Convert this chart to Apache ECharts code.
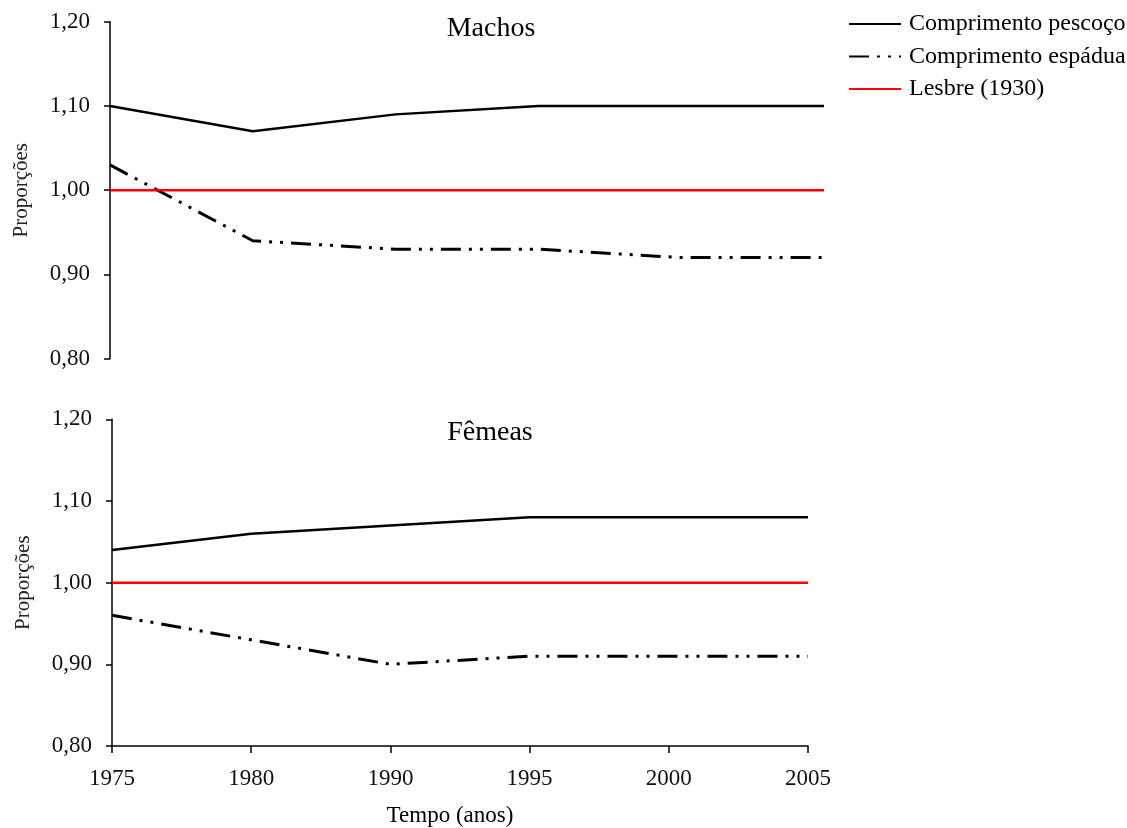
<!DOCTYPE html>
<html>
<head>
<meta charset="utf-8">
<script src="https://cdn.jsdelivr.net/npm/echarts@6/dist/echarts.min.js"></script>
<style>
  html, body { margin: 0; padding: 0; background: #fff; }
  #chart { width: 1127px; height: 828px; }
</style>
</head>
<body>
<div id="chart"></div>
<script>
// anos (eixo x)
const anos = ['1975', '1980', '1990', '1995', '2000', '2005'];
// Machos
const machosPescoco = [1.10, 1.07, 1.09, 1.10, 1.10, 1.10];
const machosEspadua = [1.03, 0.94, 0.93, 0.93, 0.92, 0.92];
const machosLesbre = [1.00, 1.00, 1.00, 1.00, 1.00, 1.00];
// Fêmeas
const femeasPescoco = [1.04, 1.06, 1.07, 1.08, 1.08, 1.08];
const femeasEspadua = [0.96, 0.93, 0.90, 0.91, 0.91, 0.91];
const femeasLesbre = [1.00, 1.00, 1.00, 1.00, 1.00, 1.00];

const FONT = 'Liberation Serif';
let myChart = echarts.init(document.getElementById('chart'));

function yAxis(gridIndex) {
    return {
        type: 'value',
        gridIndex: gridIndex,
        min: 0.8,
        max: 1.2,
        interval: 0.1,
        name: 'Proporções',
        nameLocation: 'middle',
        nameGap: 78,
        nameTextStyle: { fontFamily: FONT, fontSize: 21, color: '#222' },
        axisLine: { show: true, lineStyle: { color: '#000', width: 1.5 } },
        axisTick: { show: true, length: 6, lineStyle: { color: '#000', width: 1.5 } },
        axisLabel: {
            fontFamily: FONT, fontSize: 23, color: '#111', margin: 20,
            padding: [4, 0, 0, 0],
            formatter: function (v) { return v.toFixed(2).replace('.', ','); }
        },
        splitLine: { show: false }
    };
}

// traço-ponto-ponto
const dashDot = [20, 8, 3, 8, 3, 8];

function series(name, data, idx, color, width, type) {
    return {
        name: name,
        type: 'line',
        xAxisIndex: idx,
        yAxisIndex: idx,
        data: data,
        symbol: 'none',
        silent: true,
        itemStyle: { color: color },
        lineStyle: { color: color, width: width, type: type || 'solid' }
    };
}

let option = {
    animation: false,
    title: [{
        text: 'Machos', left: 486, top: 10, textAlign: 'center',
        textStyle: { fontFamily: FONT, fontSize: 28, fontWeight: 'normal', color: '#000' }
    }, {
        text: 'Fêmeas', left: 485, top: 414, textAlign: 'center',
        textStyle: { fontFamily: FONT, fontSize: 28, fontWeight: 'normal', color: '#000' }
    }],
    legend: {
        orient: 'vertical',
        left: 843,
        top: 7,
        itemWidth: 52,
        itemHeight: 20,
        itemGap: 8.5,
        itemStyle: { opacity: 0 },
        data: ['Comprimento pescoço', 'Comprimento espádua', 'Lesbre (1930)'],
        textStyle: { fontFamily: FONT, fontSize: 24, lineHeight: 20, color: '#000', padding: [0, 0, 0, 3] }
    },
    grid: [
        { left: 110, top: 21.7, width: 714, height: 337 },
        { left: 112, top: 419.3, width: 696, height: 330.7 }
    ],
    xAxis: [{
        type: 'category',
        gridIndex: 0,
        data: anos,
        boundaryGap: false,
        show: false
    }, {
        type: 'category',
        gridIndex: 1,
        data: anos,
        boundaryGap: false,
        name: 'Tempo (anos)',
        nameLocation: 'middle',
        nameGap: 58,
        nameTextStyle: { fontFamily: FONT, fontSize: 23, color: '#000', padding: [0, 20, 0, 0] },
        axisLine: { lineStyle: { color: '#000', width: 1.5 } },
        axisTick: { alignWithLabel: true, length: 7, lineStyle: { color: '#000', width: 1.5 } },
        axisLabel: { fontFamily: FONT, fontSize: 23, color: '#111', margin: 21 }
    }],
    yAxis: [yAxis(0), yAxis(1)],
    series: [
        series('Comprimento pescoço', machosPescoco, 0, '#000', 2.5),
        series('Comprimento espádua', machosEspadua, 0, '#000', 3, dashDot),
        series('Lesbre (1930)', machosLesbre, 0, '#ff0000', 2.5),
        series('Comprimento pescoço', femeasPescoco, 1, '#000', 2.5),
        series('Comprimento espádua', femeasEspadua, 1, '#000', 3, dashDot),
        series('Lesbre (1930)', femeasLesbre, 1, '#ff0000', 2.5)
    ]
};
myChart.setOption(option);
window.addEventListener('resize', function () {
    myChart.resize();
});
</script>
</body>
</html>
